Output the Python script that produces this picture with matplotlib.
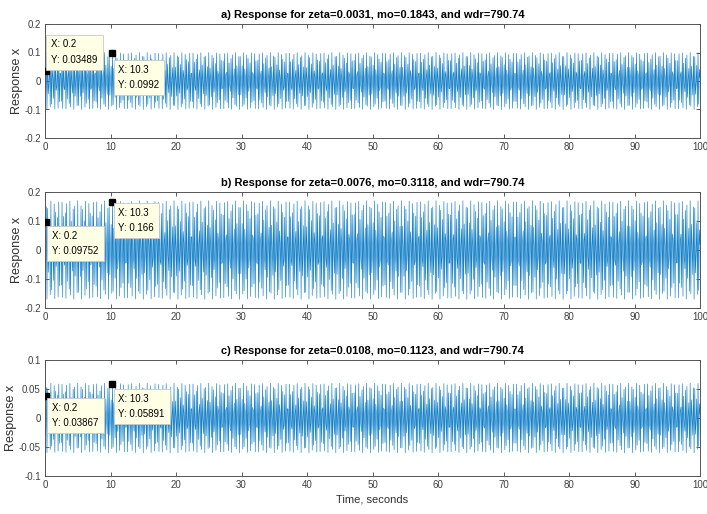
import numpy as np
import matplotlib
matplotlib.use("Agg")
import matplotlib.pyplot as plt

# values
titles = ["a) Response for zeta=0.0031, mo=0.1843, and wdr=790.74",
          "b) Response for zeta=0.0076, mo=0.3118, and wdr=790.74",
          "c) Response for zeta=0.0108, mo=0.1123, and wdr=790.74"]
wdr = 790.74            # rad/s, from the titles
dt = 0.1                # sample step (data tips sit on 0.2, 10.3)
peak_amp = [0.10, 0.17, 0.06]
ylims = [0.2, 0.2, 0.1]
yticks = [[-0.2, -0.1, 0, 0.1, 0.2],
          [-0.2, -0.1, 0, 0.1, 0.2],
          [-0.1, -0.05, 0, 0.05, 0.1]]
xticks = [0, 10, 20, 30, 40, 50, 60, 70, 80, 90, 100]
tip_x = [[0.2, 10.3], [0.2, 10.3], [0.2, 10.3]]
tip_y = [[0.03489, 0.0992], [0.09752, 0.166], [0.03867, 0.05891]]
tip_txt = [["0.03489", "0.0992"], ["0.09752", "0.166"], ["0.03867", "0.05891"]]
# box offsets from the marker, pixels (dx, dy, va)
tip_off = [[(5, 6, "bottom"), (6, -12, "top")],
           [(6, -9, "top"), (6, -6, "top")],
           [(6, -7, "top"), (6, -10, "top")]]

W, H = 707, 514
rects = [(45, 24, 138), (45, 192, 308), (45, 360, 476)]
right = 700

plt.rcParams["font.family"] = ["Liberation Sans Narrow", "Liberation Sans", "DejaVu Sans"]
fig = plt.figure(figsize=(W / 100, H / 100), dpi=100)
t = np.arange(0, 100 + dt / 2, dt)

for i in range(3):
    l, top, bot = rects[i]
    ax = fig.add_axes([l / W, 1 - bot / H, (right - l) / W, (bot - top) / H])
    x = peak_amp[i] * np.sin(wdr * t)
    ax.plot(t, x, color="#1580C8", lw=0.45)
    ax.set_xlim(0, 100)
    ax.set_ylim(-ylims[i], ylims[i])
    ax.set_xticks(xticks)
    ax.set_yticks(yticks[i])
    ax.set_yticklabels([("%g" % v) for v in yticks[i]])
    ax.tick_params(direction="in", top=True, right=True, labelsize=7,
                   colors="#404040", length=3, width=0.6, pad=3)
    for s in ax.spines.values():
        s.set_color("#555555")
        s.set_linewidth(0.7)
    ax.set_ylabel("Response x", fontsize=9, color="#303030", labelpad=1)
    ax.set_title(titles[i], fontsize=8, fontweight="bold", pad=4)
    for j in range(2):
        ax.plot(tip_x[i][j], tip_y[i][j], "s", color="black", ms=5, zorder=5)
        dx, dy, va = tip_off[i][j]
        ax.annotate("X: %g\nY: %s" % (tip_x[i][j], tip_txt[i][j]),
                    (tip_x[i][j], tip_y[i][j]), xytext=(dx, dy),
                    textcoords="offset pixels", ha="left", va=va, fontsize=7,
                    linespacing=1.7, zorder=6,
                    bbox=dict(boxstyle="square,pad=0.5", fc="#FFFFE6",
                              ec="#C8C8C8", lw=0.6))
    if i == 2:
        ax.set_xlabel("Time, seconds", fontsize=8, color="#303030", labelpad=3)

fig.savefig("out.png", dpi=100)
